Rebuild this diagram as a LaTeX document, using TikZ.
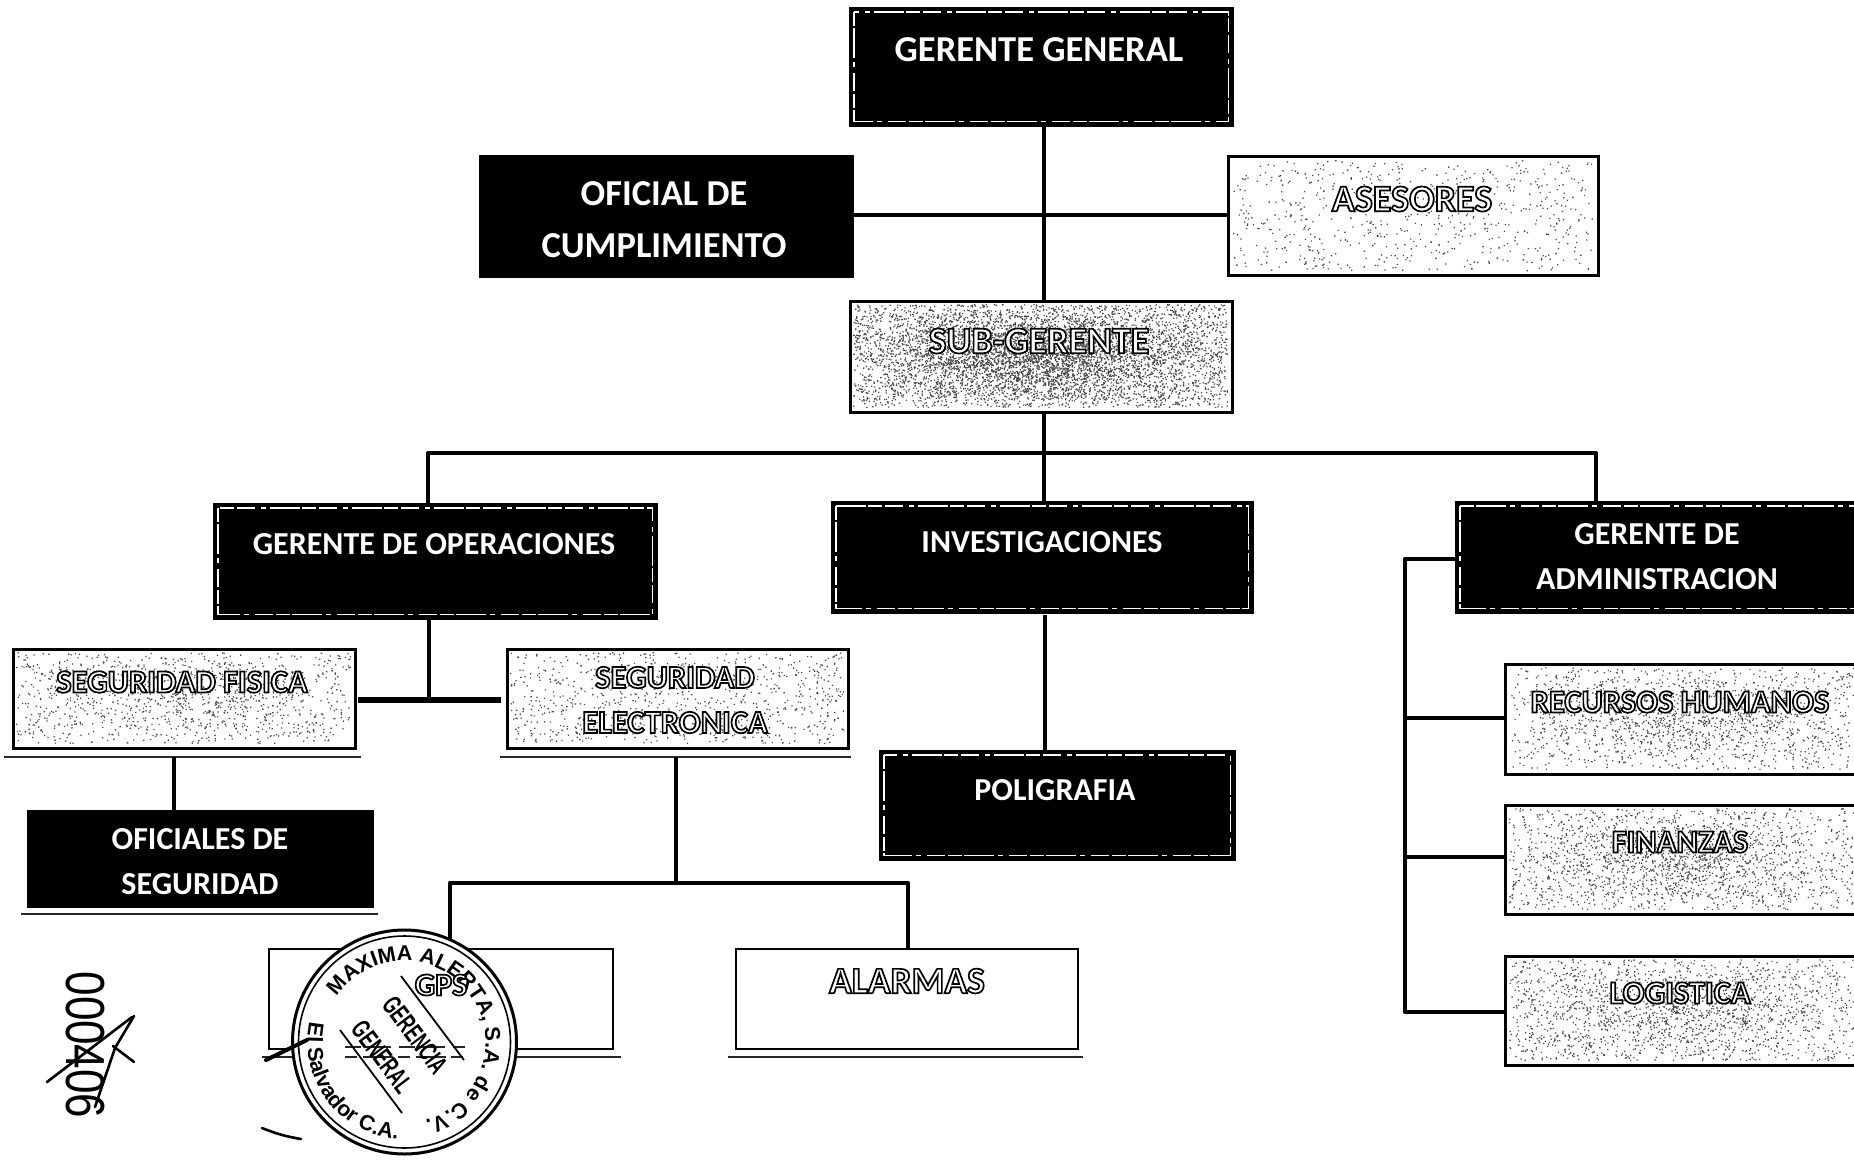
\documentclass[tikz,border=0pt]{standalone}
\usepackage{fontspec}
\setmainfont{Carlito}
\setsansfont{Liberation Sans}
\usetikzlibrary{decorations.text,calc}
\pgfmathsetseed{4217}
\newcommand{\outl}[1]{{\color{white}\special{pdf:code 0 0 0 RG 1.7 w 2 Tr}#1\special{pdf:code 0 Tr}}}
\newcommand{\speck}[5]{\fill[speckle] foreach \i in {1,...,#5} { ({#1+rnd*(#3-#1)},{#2+rnd*(#4-#2)}) rectangle +(1.3,1.3) };}
\newcommand{\speckc}[5]{\fill[speckle] foreach \i in {1,...,#5} { ({#1+(rnd+rnd)/2*(#3-#1)},{#2+(rnd+rnd)/2*(#4-#2)}) rectangle +(1.3,1.3) };}
\tikzset{
  x=1pt,y=-1pt,
  darkbox/.style={draw=black,line width=2.5pt,fill=black,rectangle,inner sep=0pt,anchor=north west},
  lightbox/.style={draw=black,line width=2.5pt,fill=white,rectangle,inner sep=0pt,anchor=north west},
  plainbox/.style={draw=black,line width=1.5pt,fill=white,rectangle,inner sep=0pt,anchor=north west},
  speckle/.style={fill=black!70},
  inner dash/.style={draw=white,line width=1.2pt,dash pattern=on 14pt off 2pt on 30pt off 4pt on 5pt off 6pt on 18pt off 3pt},
  wtext/.style={text=white,align=center,font=\bfseries\fontsize{32}{45}\selectfont,inner sep=0pt},
  otext/.style={align=center,font=\bfseries\fontsize{32.5}{45}\selectfont,inner sep=0pt},
  link/.style={draw=black,line width=4.5pt},
  heavy/.style={draw=black,line width=6.5pt},
  rule/.style={draw=black!85,line width=1.6pt},
  hand/.style={draw=black,line width=2.6pt,line cap=round},
  stamptext/.style={font=\sffamily\bfseries\fontsize{27}{27}\selectfont,rotate=-53,xscale=.62,inner sep=0pt},
}
\begin{document}
\begin{tikzpicture}
\useasboundingbox (0,0) rectangle (1854,1159);
% boxes
\node[darkbox,minimum width=382pt,minimum height=117pt] (gg) at (849,7) {};
\node[darkbox,minimum width=372pt,minimum height=120pt] (oc) at (479,155) {};
\node[lightbox,minimum width=370pt,minimum height=119pt] (as) at (1227,155) {};
\node[lightbox,minimum width=382pt,minimum height=111pt] (sg) at (849,300) {};
\node[darkbox,minimum width=442pt,minimum height=114pt] (go) at (213,503) {};
\node[darkbox,minimum width=420pt,minimum height=110pt] (in) at (831,501) {};
\node[darkbox,minimum width=400pt,minimum height=110pt] (ga) at (1455,501) {};
\node[lightbox,minimum width=342pt,minimum height=99pt] (sf) at (12,648) {};
\node[lightbox,minimum width=341pt,minimum height=99pt] (se) at (506,648) {};
\node[darkbox,minimum width=344pt,minimum height=95pt] (os) at (27,810) {};
\node[darkbox,minimum width=354pt,minimum height=108pt] (po) at (879,750) {};
\node[lightbox,minimum width=351pt,minimum height=110pt] (rh) at (1504,663) {};
\node[lightbox,minimum width=351pt,minimum height=109pt] (fi) at (1504,804) {};
\node[lightbox,minimum width=351pt,minimum height=109pt] (lo) at (1504,955) {};
\node[plainbox,minimum width=344pt,minimum height=100pt] (gp) at (268,948) {};
\node[plainbox,minimum width=342pt,minimum height=100pt] (al) at (735,948) {};
% speckle
\speck{1233}{160}{1592}{270}{650}
\speck{853}{304}{1227}{407}{3000}
\speckc{853}{304}{1227}{407}{3200}
\speck{16}{652}{350}{743}{800}
\speckc{16}{652}{350}{743}{400}
\speck{510}{652}{843}{743}{850}
\speck{1508}{667}{1853}{769}{800}
\speckc{1508}{667}{1853}{769}{800}
\speck{1508}{808}{1853}{909}{1000}
\speckc{1508}{808}{1853}{909}{1000}
\speck{1508}{959}{1853}{1060}{1150}
\speckc{1508}{959}{1853}{1060}{800}
% inner white dashed frames
\foreach \n in {gg,go,in,po}{
  \draw[inner dash] ($(\n.north west)+(5,5)$) rectangle ($(\n.south east)+(-5,-5)$);
}
\draw[inner dash] ($(ga.north west)+(5,5)$) -- ($(ga.north east)+(0,5)$);
\draw[inner dash] ($(ga.north west)+(5,5)$) -- ($(ga.south west)+(5,-5)$) -- ($(ga.south east)+(0,-5)$);
% underlines
\coordinate (u1a) at (4,757); \coordinate (u1b) at (361,757);
\coordinate (u2a) at (500,757); \coordinate (u2b) at (851,757);
\coordinate (u3a) at (21,914); \coordinate (u3b) at (378,914);
\coordinate (u4a) at (262,1057); \coordinate (u4b) at (621,1057);
\coordinate (u5a) at (728,1057); \coordinate (u5b) at (1083,1057);
\draw[rule] (u1a) -- (u1b);
\draw[rule] (u2a) -- (u2b);
\draw[rule] (u3a) -- (u3b);
\draw[rule] (u4a) -- (u4b);
\draw[rule] (u5a) -- (u5b);
% connectors
\coordinate (ctr) at (1044,215);
\coordinate (bus) at (1044,453);
\draw[link] (gg.south -| ctr) -- (sg.north -| ctr);
\draw[link] (oc.east |- ctr) -- (as.west |- ctr);
\draw[link] (sg.south -| ctr) -- (bus);
\coordinate (busl) at (428,453); \coordinate (busr) at (1596,453);
\draw[link,line join=round] (go.north -| busl) -- (busl) -- (busr) -- (ga.north -| busr);
\draw[link] (bus) -- (in.north -| bus);
\coordinate (opj) at (429,700);
\draw[link] (go.south -| opj) -- (opj);
\coordinate (sfr) at (358,700); \coordinate (sel) at (501,700);
\draw[heavy] (sfr) -- (sel);
\coordinate (sfd) at (174,757);
\draw[link] (sfd) -- (os.north -| sfd);
\coordinate (sed) at (676,757); \coordinate (sej) at (676,883);
\draw[link] (sed) -- (sej);
\coordinate (ell) at (450,883); \coordinate (elr) at (908,883);
\draw[link,line join=round] (gp.north -| ell) -- (ell) -- (elr) -- (al.north -| elr);
\coordinate (ipd) at (1045,615);
\draw[link] (ipd) -- (po.north -| ipd);
\coordinate (adm) at (1405,559); \coordinate (adme) at (1405,1012);
\draw[link,line join=round] (ga.west |- adm) -- (adm) -- (adme) -- (lo.west |- adme);
\coordinate (a1) at (1405,718); \coordinate (a2) at (1405,857);
\draw[link] (a1) -- (rh.west |- a1);
\draw[link] (a2) -- (fi.west |- a2);
% labels
\node[wtext,font=\bfseries\fontsize{36.5}{45}\selectfont] (tgg) at (1039,50) {GERENTE GENERAL};
\node[wtext,font=\bfseries\fontsize{36.5}{52}\selectfont] (toc) at (664,220) {OFICIAL DE\\CUMPLIMIENTO};
\node[otext,font=\bfseries\fontsize{38}{45}\selectfont] (tas) at (1412,199) {\outl{ASESORES}};
\node[otext,font=\bfseries\fontsize{38}{45}\selectfont] (tsg) at (1039,341) {\outl{SUB-GERENTE}};
\node[wtext] (tgo) at (434,544) {GERENTE DE OPERACIONES};
\node[wtext] (tin) at (1042,542) {INVESTIGACIONES};
\node[wtext] (tga) at (1657,557) {GERENTE DE\\ADMINISTRACION};
\node[otext] (tsf) at (182,682) {\outl{SEGURIDAD FISICA}};
\node[otext] (tse) at (675,700) {\outl{SEGURIDAD}\\\outl{ELECTRONICA}};
\node[wtext] (tos) at (200,862) {OFICIALES DE\\SEGURIDAD};
\node[wtext] (tpo) at (1055,790) {POLIGRAFIA};
\node[otext] (trh) at (1680,702) {\outl{RECURSOS HUMANOS}};
\node[otext] (tfi) at (1680,842) {\outl{FINANZAS}};
\node[otext] (tlo) at (1680,993) {\outl{LOGISTICA}};
\node[otext,font=\bfseries\fontsize{37.5}{45}\selectfont] (tal) at (907,981) {\outl{ALARMAS}};
% stamp
\begin{scope}[shift={(404.5,1042)}]
  \node[circle,draw=black,line width=3pt,fill=white,minimum size=224pt,inner sep=0pt] (st) at (0,0) {};
  \node[circle,draw=black,line width=1.6pt,minimum size=212pt,inner sep=0pt] (st2) at (0,0) {};
  \coordinate (d1) at (-60,5); \coordinate (d2) at (60,5);
  \coordinate (d3) at (-60,15); \coordinate (d4) at (60,15);
  \draw[rule,line width=1.2pt,dash pattern=on 16pt off 4pt on 26pt off 8pt] (d1) -- (d2);
  \draw[rule,line width=1.2pt,dash pattern=on 12pt off 6pt on 30pt off 5pt] (d3) -- (d4);
  \path[decorate,decoration={text along path,text align=left,
    text={|\sffamily\bfseries\fontsize{21.5}{21.5}\selectfont|MAXIMA ALERTA, S.A. de C.V.}}]
    (146:81pt) arc[start angle=146,end angle=-95,radius=81pt];
  \path[decorate,decoration={text along path,text align=left,
    text={|\sffamily\bfseries\fontsize{21.5}{21.5}\selectfont|El Salvador C.A.}}]
    (168:97pt) arc[start angle=168,end angle=290,radius=97pt];
\end{scope}
\node[otext,font=\bfseries\fontsize{32}{32}\selectfont] (tgp) at (441,985) {\outl{GPS}};
\node[stamptext] (st3) at (415,1035) {GERENCIA};
\node[stamptext] (st4) at (382,1057) {GENERAL};
\coordinate (l1a) at (401,976); \coordinate (l1b) at (464,1060);
\coordinate (l2a) at (340,1030); \coordinate (l2b) at (402,1113);
\draw[line width=1.8pt] (l1a) -- (l1b);
\draw[line width=1.8pt] (l2a) -- (l2b);
\coordinate (m1) at (266,1060); \coordinate (m2) at (307,1040);
\draw[hand,line width=4pt] (m1) -- (m2);
\coordinate (m3) at (262,1128); \coordinate (m4) at (301,1139);
\draw[hand] (m3) to[bend right=6] (m4);
% hand-written number
\node[font=\sffamily\fontsize{44}{44}\selectfont,rotate=-90,yscale=1.25,inner sep=0pt] (num) at (85,1045) {000406};
\coordinate (h1) at (132,1017); \coordinate (h2) at (47,1082);
\coordinate (h3) at (134,1016); \coordinate (h4) at (115,1048); \coordinate (h5) at (95,1107);
\coordinate (h6) at (113,1046); \coordinate (h7) at (134,1062);
\draw[hand] (h1) -- (h2);
\draw[hand] (h3) -- (h4) -- (h5);
\draw[hand] (h6) -- (h7);
\end{tikzpicture}
\end{document}
